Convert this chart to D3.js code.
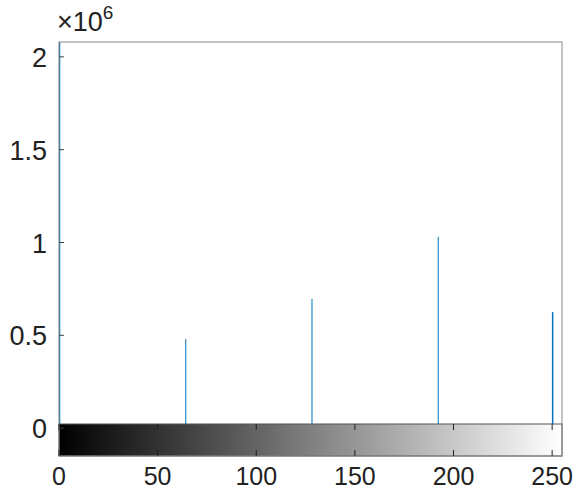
<!DOCTYPE html>
<html><head><meta charset="utf-8">
<script src="https://cdn.jsdelivr.net/npm/d3@7"></script>
<style>body{margin:0;background:#fff}text{font-family:"Liberation Sans",Arial,sans-serif;fill:#222}</style>
</head><body><svg id="c" width="576" height="491"></svg>
<script>
const bins = [0, 64, 128, 192, 250];
const counts = [2300000, 480000, 696000, 1030000, 625000];
const xTicks = [0, 50, 100, 150, 200, 250];
const yTicks = [0, 500000, 1000000, 1500000, 2000000];

const svg = d3.select('#c');
const L = 59, R = 562, T = 42, B = 456, cbTop = 424;
const x = d3.scaleLinear().domain([0, 255]).range([L, R]);
const y = d3.scaleLinear().domain([-150000, 2080000]).range([B, T]);

svg.append('clipPath').attr('id', 'clip').append('rect')
  .attr('x', L).attr('y', T).attr('width', R - L).attr('height', B - T);

// gradient colorbar
const grad = svg.append('defs').append('linearGradient').attr('id', 'g');
grad.append('stop').attr('offset', 0).attr('stop-color', '#000');
grad.append('stop').attr('offset', 1).attr('stop-color', '#fff');

svg.append('g').attr('clip-path', 'url(#clip)')
  .selectAll('line').data(bins).join('line')
  .attr('x1', (d) => x(d) + 0.5).attr('x2', (d) => x(d) + 0.5)
  .attr('y1', y(0)).attr('y2', (d, i) => y(counts[i]))
  .attr('stroke', '#0072BD').attr('stroke-width', (d, i) => (i === 0 || i === 4) ? 1.5 : 1);

svg.append('rect').attr('x', L).attr('y', cbTop).attr('width', R - L).attr('height', B - cbTop)
  .attr('fill', 'url(#g)').attr('stroke', '#555');

svg.append('rect').attr('x', L).attr('y', T).attr('width', R - L).attr('height', B - T)
  .attr('fill', 'none').attr('stroke', '#888');

// x ticks
const gx = svg.append('g');
xTicks.forEach((t) => {
  gx.append('line').attr('x1', x(t)).attr('x2', x(t)).attr('y1', cbTop).attr('y2', cbTop + 6).attr('stroke', '#222');
  gx.append('line').attr('x1', x(t)).attr('x2', x(t)).attr('y1', B).attr('y2', B - 6).attr('stroke', '#222');
  gx.append('text').attr('x', x(t)).attr('y', 485).attr('text-anchor', 'middle')
    .attr('font-size', 25).text(t);
});

// y ticks
const gy = svg.append('g');
yTicks.forEach((t) => {
  gy.append('line').attr('x1', L).attr('x2', L + 5).attr('y1', y(t)).attr('y2', y(t)).attr('stroke', '#444');
  gy.append('text').attr('x', 47).attr('y', y(t) + 10).attr('text-anchor', 'end')
    .attr('font-size', 27).text(t / 1e6);
});

const ex = svg.append('text').attr('x', 57).attr('y', 31).attr('font-size', 27);
ex.append('tspan').text('×10');
ex.append('tspan').attr('dy', -12).attr('font-size', 19).text('6');
</script></body></html>
